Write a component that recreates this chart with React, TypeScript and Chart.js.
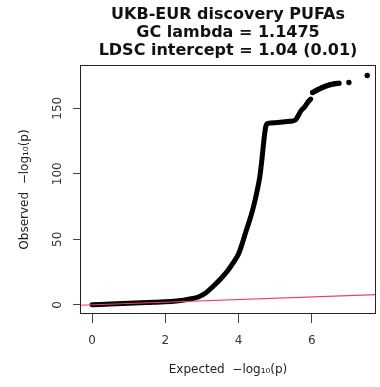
import React, { useEffect, useRef } from "react";
import { Chart, registerables } from "chart.js";

Chart.register(...registerables);

const titleLines = ["UKB-EUR discovery PUFAs", "GC lambda = 1.1475", "LDSC intercept = 1.04 (0.01)"];
const xLabel = "Expected  \u2212log\u2081\u2080(p)";
const yLabel = "Observed  \u2212log\u2081\u2080(p)";
const xTicks = [0, 2, 4, 6];
const yTicks = [0, 50, 100, 150];

// dense part of the QQ curve (expected, observed -log10 p)
const expectedMain = [0, 0.5, 1.0, 1.5, 2.0, 2.3, 2.5, 2.7, 2.9, 3.1, 3.3, 3.5, 3.7, 3.85, 4.0, 4.1, 4.2, 4.3, 4.38, 4.45, 4.52, 4.58, 4.64, 4.7, 4.74, 4.8, 5.0, 5.2, 5.4, 5.55, 5.62, 5.7, 5.8, 5.9, 5.97];
const observedMain = [0, 0.6, 1.2, 1.8, 2.4, 3.0, 3.6, 4.6, 6, 9, 14, 19.5, 26, 32, 39, 47, 56, 64.5, 72, 80, 89, 98, 112, 128, 136, 138.5, 139, 139.5, 140, 141, 144, 148, 151, 155, 157];

// sparse top points
const expectedTop = [6.02, 6.07, 6.12, 6.17, 6.22, 6.27, 6.32, 6.37, 6.42, 6.47, 6.52, 6.57, 6.62, 6.67, 6.74, 7.01, 7.51];
const observedTop = [162, 162.8, 163.6, 164.3, 165, 165.6, 166.2, 166.8, 167.3, 167.7, 168.1, 168.4, 168.7, 168.9, 169.1, 169.6, 175];

// y = x reference line
const refLine = [-1, 10];

export default function App() {
  const ref = useRef<HTMLCanvasElement>(null);

  useEffect(() => {
    if (!ref.current) return;
    const font = '"DejaVu Sans", sans-serif';
    const rPlugin = {
      id: "rStyle",
      afterDraw(chart: any) {
        const { ctx, chartArea: a, scales } = chart;
        ctx.save();
        ctx.strokeStyle = "#222";
        ctx.lineWidth = 1;
        ctx.strokeRect(Math.round(a.left) + 0.5, Math.round(a.top) + 0.5, Math.round(a.right - a.left) - 1, Math.round(a.bottom - a.top) - 1);
        ctx.fillStyle = "#333";
        ctx.font = `12px ${font}`;
        ctx.textAlign = "center";
        ctx.textBaseline = "middle";
        for (const v of yTicks) {
          const y = scales.y.getPixelForValue(v);
          ctx.save();
          ctx.translate(58, y);
          ctx.rotate(-Math.PI / 2);
          ctx.fillText(String(v), 0, 0);
          ctx.restore();
        }
        ctx.restore();
      },
    };

    const chart = new Chart(ref.current, {
      type: "scatter",
      data: {
        datasets: [
          {
            data: refLine.map((v) => ({ x: v, y: v })),
            showLine: true,
            borderColor: "#ee3f64",
            borderWidth: 1.2,
            pointRadius: 0,
            order: 0,
          },
          {
            data: expectedMain.map((x, i) => ({ x, y: observedMain[i] })),
            showLine: true,
            borderColor: "#000",
            borderWidth: 5,
            borderCapStyle: "round",
            borderJoinStyle: "round",
            cubicInterpolationMode: "monotone",
            pointRadius: 0,
            order: 1,
          },
          {
            data: expectedTop.map((x, i) => ({ x, y: observedTop[i] })),
            backgroundColor: "#000",
            borderWidth: 0,
            pointRadius: 2.7,
            order: 1,
          },
        ],
      },
      options: {
        responsive: false,
        animation: false,
        devicePixelRatio: 1,
        layout: { padding: { left: 0, right: 3, top: 0, bottom: 0 } },
        plugins: {
          legend: { display: false },
          tooltip: { enabled: false },
          title: {
            display: true,
            text: titleLines,
            fullSize: false,
            color: "#111",
            font: { family: font, size: 16, weight: "bold", lineHeight: 1.125 },
            padding: { top: 6, bottom: 5 },
          },
        },
        scales: {
          x: {
            type: "linear",
            min: -0.33,
            max: 7.75,
            afterBuildTicks: (s: any) => {
              s.ticks = xTicks.map((v) => ({ value: v }));
            },
            afterFit: (s: any) => {
              s.height = 73;
            },
            grid: { drawOnChartArea: false, drawTicks: true, tickLength: 9, color: "#444" },
            border: { display: false },
            ticks: { font: { family: font, size: 12 }, color: "#333", padding: 11, maxRotation: 0, autoSkip: false },
            title: { display: true, text: xLabel, color: "#222", font: { family: font, size: 12 }, padding: { top: 0, bottom: 10 } },
          },
          y: {
            type: "linear",
            min: -7,
            max: 183,
            afterBuildTicks: (s: any) => {
              s.ticks = yTicks.map((v) => ({ value: v }));
            },
            afterFit: (s: any) => {
              s.width = 80;
            },
            grid: { drawOnChartArea: false, drawTicks: true, tickLength: 7, color: "#444" },
            border: { display: false },
            ticks: { display: false },
            title: { display: true, text: yLabel, color: "#222", font: { family: font, size: 12 }, padding: { top: 18, bottom: 0 } },
          },
        },
      },
      plugins: [rPlugin],
    } as any);
    return () => chart.destroy();
  }, []);

  return (
    <div style={{ position: "absolute", left: 0, top: 0, width: 380, height: 387, background: "#fff" }}>
      <canvas ref={ref} width={380} height={387} style={{ display: "block" }} />
    </div>
  );
}
